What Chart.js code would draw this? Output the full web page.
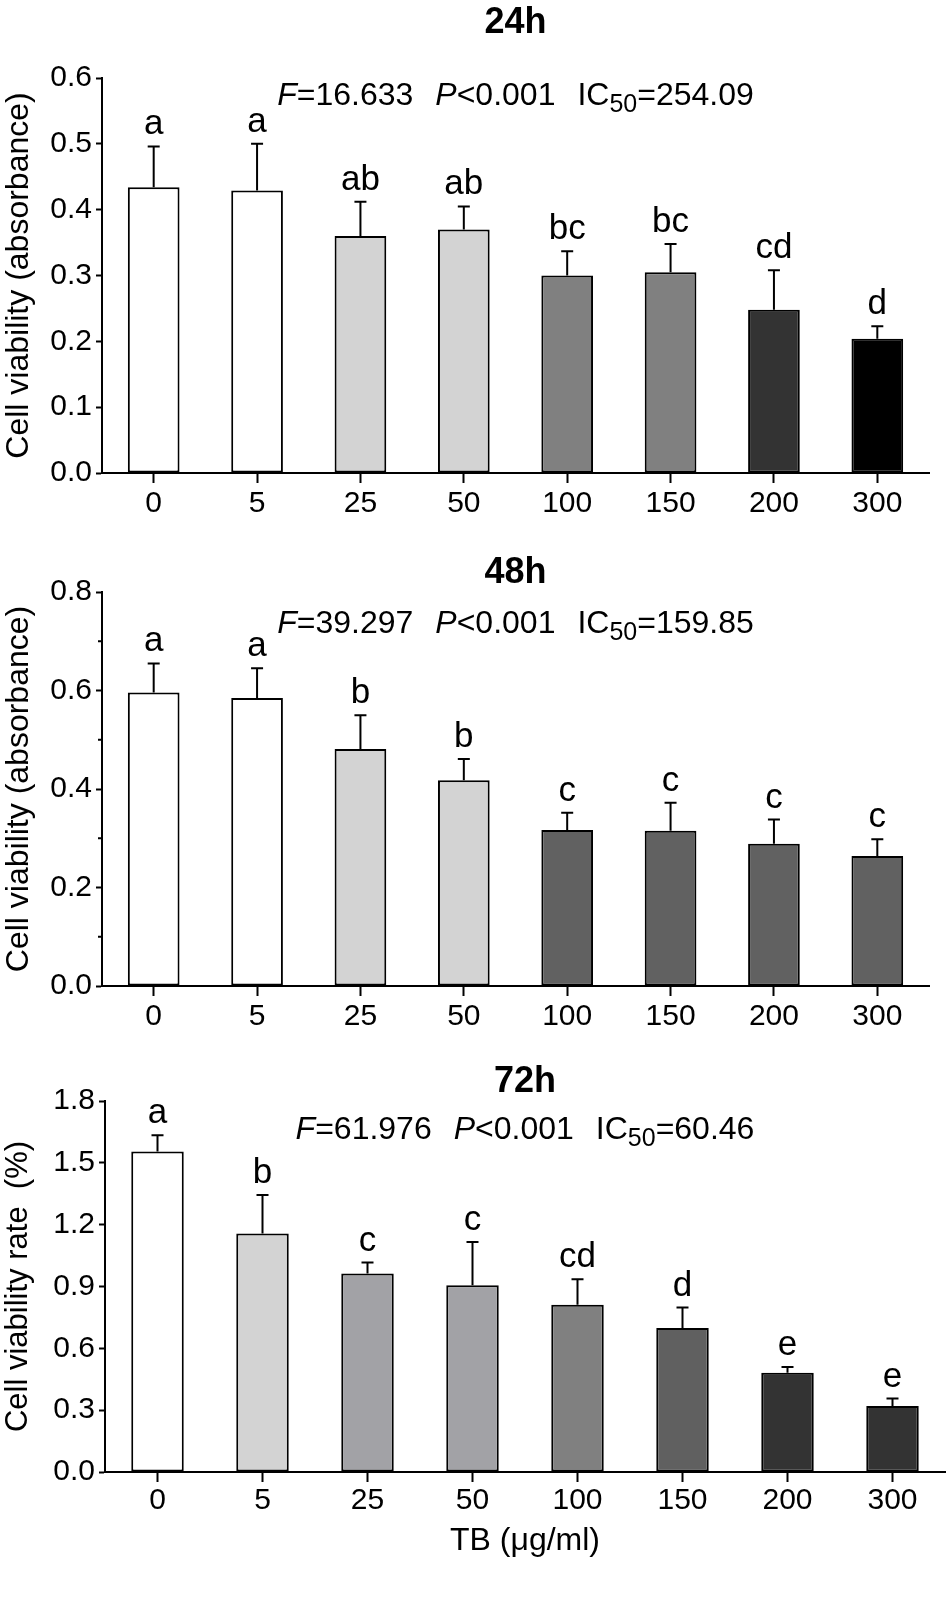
<!DOCTYPE html>
<html>
<head>
<meta charset="utf-8">
<script src="https://cdn.jsdelivr.net/npm/chart.js@4.4.0/dist/chart.umd.min.js"></script>
<style>
  html, body { margin: 0; padding: 0; background: #ffffff; }
  body { width: 950px; height: 1605px; position: relative; overflow: hidden; }
  canvas { position: absolute; left: 0; display: block; }
</style>
</head>
<body>
<canvas id="c24" width="950" height="530" style="top:0px"></canvas>
<canvas id="c48" width="950" height="510" style="top:530px"></canvas>
<canvas id="c72" width="950" height="565" style="top:1040px"></canvas>
<script>
// ---------------- DATA ----------------
const categories = ['0', '5', '25', '50', '100', '150', '200', '300'];

const mean24 = [0.434, 0.429, 0.360, 0.370, 0.300, 0.305, 0.248, 0.204];
const sd24   = [0.062, 0.071, 0.052, 0.035, 0.037, 0.043, 0.060, 0.019];
const letters24 = ['a', 'a', 'ab', 'ab', 'bc', 'bc', 'cd', 'd'];

const mean48 = [0.596, 0.585, 0.481, 0.418, 0.317, 0.315, 0.289, 0.264];
const sd48   = [0.059, 0.060, 0.069, 0.043, 0.035, 0.057, 0.049, 0.034];
const letters48 = ['a', 'a', 'b', 'b', 'c', 'c', 'c', 'c'];

const mean72 = [1.555, 1.157, 0.963, 0.906, 0.812, 0.699, 0.482, 0.320];
const sd72   = [0.079, 0.187, 0.053, 0.210, 0.123, 0.099, 0.028, 0.036];
const letters72 = ['a', 'b', 'c', 'c', 'cd', 'd', 'e', 'e'];

const panelTitles = ['24h', '48h', '72h'];
const statF    = ['16.633', '39.297', '61.976'];
const statP    = ['<0.001', '<0.001', '<0.001'];
const statIC50 = ['254.09', '159.85', '60.46'];

const yTitles = ['Cell viability (absorbance)', 'Cell viability (absorbance)', 'Cell viability rate  (%)'];
const xTitle3 = 'TB (\u03bcg/ml)';

// ---------------- STYLES ----------------
const colors24 = ['#ffffff', '#ffffff', '#d3d3d3', '#d3d3d3', '#808080', '#808080', '#333333', '#000000'];
const colors48 = ['#ffffff', '#ffffff', '#d3d3d3', '#d3d3d3', '#616161', '#616161', '#616161', '#616161'];
const colors72 = ['#ffffff', '#d3d3d3', '#a2a2a6', '#a2a2a6', '#808080', '#606060', '#333333', '#333333'];

const FONT = "'Liberation Sans', Arial, Helvetica, sans-serif";

function annotPlugin(p) {
  return {
    id: 'annot' + p.idx,
    afterDatasetsDraw(chart) {
      const ctx = chart.ctx;
      const meta = chart.getDatasetMeta(0);
      const ys = chart.scales.y;
      ctx.save();
      ctx.strokeStyle = '#000';
      ctx.fillStyle = '#000';
      ctx.lineWidth = 2;
      p.mean.forEach((m, i) => {
        const x = meta.data[i].x;
        const y0 = ys.getPixelForValue(m);
        const y1 = ys.getPixelForValue(m + p.sd[i]);
        ctx.beginPath();
        ctx.moveTo(x, y0);
        ctx.lineTo(x, y1);
        ctx.moveTo(x - 6, y1);
        ctx.lineTo(x + 6, y1);
        ctx.stroke();
        ctx.font = '35px ' + FONT;
        ctx.textAlign = 'center';
        ctx.textBaseline = 'alphabetic';
        ctx.fillText(p.letters[i], x, y1 - 12);
      });
      ctx.restore();
    },
    afterDraw(chart) {
      const ctx = chart.ctx;
      const ca = chart.chartArea;
      const cx = (ca.left + ca.right) / 2;
      ctx.save();
      ctx.fillStyle = '#000';
      ctx.textBaseline = 'alphabetic';
      ctx.textAlign = 'center';
      ctx.font = 'bold 36px ' + FONT;
      ctx.fillText(panelTitles[p.idx], cx, p.titleBaseline);
      // minor ticks between labelled ticks
      if (p.minor) {
        const ys = chart.scales.y;
        const t = ys.ticks;
        ctx.strokeStyle = '#000';
        ctx.lineWidth = 2;
        for (let k = 0; k < t.length - 1; k++) {
          const mid = (t[k].value + t[k + 1].value) / 2;
          const py = ys.getPixelForValue(mid);
          ctx.beginPath();
          ctx.moveTo(ca.left - 4, py);
          ctx.lineTo(ca.left, py);
          ctx.stroke();
        }
      }
      // statistics line
      const parts = [
        { t: 'F', f: 'italic 32px ' + FONT },
        { t: '=' + statF[p.idx], f: '32px ' + FONT },
        { gap: 22 },
        { t: 'P', f: 'italic 32px ' + FONT },
        { t: statP[p.idx], f: '32px ' + FONT },
        { gap: 22 },
        { t: 'IC', f: '32px ' + FONT },
        { t: '50', f: '25px ' + FONT, dy: 7 },
        { t: '=' + statIC50[p.idx], f: '32px ' + FONT }
      ];
      let total = 0;
      parts.forEach(q => {
        if (q.gap) { q.w = q.gap; }
        else { ctx.font = q.f; q.w = ctx.measureText(q.t).width; }
        total += q.w;
      });
      let x = cx - total / 2;
      ctx.textAlign = 'left';
      parts.forEach(q => {
        if (!q.gap) {
          ctx.font = q.f;
          ctx.fillText(q.t, x, p.statsBaseline + (q.dy || 0));
        }
        x += q.w;
      });
      ctx.restore();
    }
  };
}

function makePanel(id, p) {
  return new Chart(document.getElementById(id), {
    type: 'bar',
    data: {
      labels: categories,
      datasets: [{
        data: p.mean,
        backgroundColor: p.colors,
        borderColor: '#000000',
        borderWidth: 2,
        borderSkipped: false,
        barPercentage: 0.5,
        categoryPercentage: 1.0
      }]
    },
    options: {
      responsive: false,
      animation: false,
      events: [],
      layout: { padding: { top: p.padTop, right: p.padRight, left: 0, bottom: 0 } },
      plugins: { legend: { display: false }, tooltip: { enabled: false }, title: { display: false } },
      scales: {
        x: {
          offset: true,
          grid: { display: true, offset: false, drawOnChartArea: false, drawTicks: true, tickLength: 10, tickColor: '#000', tickWidth: 2, color: '#000' },
          border: { display: true, color: '#000', width: 2 },
          ticks: { color: '#000', font: { family: FONT, size: 30 }, padding: p.xPad, maxRotation: 0, autoSkip: false },
          title: p.xTitle ? { display: true, text: p.xTitle, color: '#000', font: { family: FONT, size: 32 }, padding: { top: 0, bottom: p.xTitlePad } } : { display: false },
          afterFit: s => { s.height = p.xHeight; }
        },
        y: {
          min: 0,
          max: p.max,
          grid: { display: true, drawOnChartArea: false, drawTicks: true, tickLength: 6, tickColor: '#000', tickWidth: 2, color: '#000' },
          border: { display: true, color: '#000', width: 2 },
          ticks: { stepSize: p.step, color: '#000', font: { family: FONT, size: 30 }, padding: 4, callback: v => Number(v).toFixed(1) },
          title: { display: true, text: p.yTitle, color: '#000', font: { family: FONT, size: p.yTitleSize }, padding: { top: 0, bottom: 0 } },
          afterFit: s => { s.width = p.yWidth; }
        }
      }
    },
    plugins: [annotPlugin(p)]
  });
}

makePanel('c24', {
  idx: 0, mean: mean24, sd: sd24, letters: letters24, colors: colors24,
  max: 0.6, step: 0.1, minor: false, yTitle: yTitles[0], yTitleSize: 32,
  padTop: 78, padRight: 21, yWidth: 102, xHeight: 57, xPad: 3,
  titleBaseline: 33, statsBaseline: 105
});
makePanel('c48', {
  idx: 1, mean: mean48, sd: sd48, letters: letters48, colors: colors48,
  max: 0.8, step: 0.2, minor: true, yTitle: yTitles[1], yTitleSize: 32,
  padTop: 62, padRight: 21, yWidth: 102, xHeight: 54, xPad: 3,
  titleBaseline: 53, statsBaseline: 103
});
makePanel('c72', {
  idx: 2, mean: mean72, sd: sd72, letters: letters72, colors: colors72,
  max: 1.8, step: 0.3, minor: false, yTitle: yTitles[2], yTitleSize: 31,
  padTop: 61, padRight: 5, yWidth: 105, xHeight: 133, xPad: 1,
  xTitle: xTitle3, xTitlePad: 45,
  titleBaseline: 52, statsBaseline: 99
});
</script>
</body>
</html>
